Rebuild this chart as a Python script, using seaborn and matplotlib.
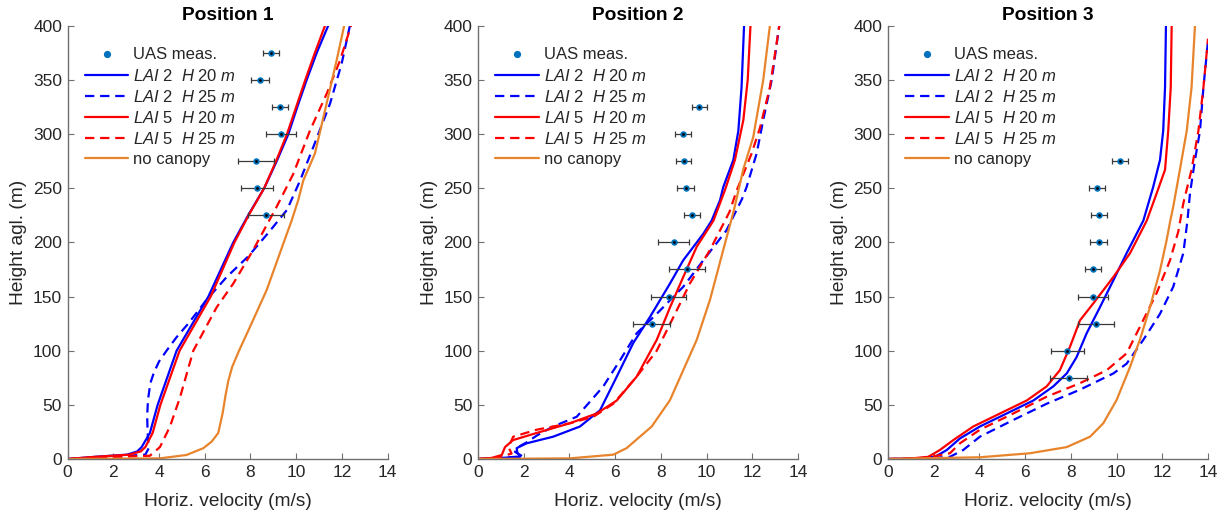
import numpy as np
import pandas as pd
import matplotlib
matplotlib.use("Agg")
import matplotlib.pyplot as plt
from matplotlib.lines import Line2D
import seaborn as sns

# ---------------- data ----------------
titles = ["Position 1", "Position 2", "Position 3"]
legend_labels = ["UAS meas.",
                 r"$\mathit{LAI}$ 2  $\mathit{H}$ 20 $\mathit{m}$",
                 r"$\mathit{LAI}$ 2  $\mathit{H}$ 25 $\mathit{m}$",
                 r"$\mathit{LAI}$ 5  $\mathit{H}$ 20 $\mathit{m}$",
                 r"$\mathit{LAI}$ 5  $\mathit{H}$ 25 $\mathit{m}$",
                 "no canopy"]
xticks = [0, 2, 4, 6, 8, 10, 12, 14]
yticks = [0, 50, 100, 150, 200, 250, 300, 350, 400]

# UAS measurements (height, velocity, half-width of error bar)
uas1_z = [375, 350, 325, 300, 275, 250, 225]
uas1_u = [8.90, 8.42, 9.29, 9.32, 8.23, 8.28, 8.68]
uas1_e = [0.37, 0.38, 0.35, 0.66, 0.78, 0.71, 0.80]
uas2_z = [325, 300, 275, 250, 225, 200, 175, 150, 125]
uas2_u = [9.68, 8.98, 9.00, 9.09, 9.36, 8.56, 9.16, 8.34, 7.60]
uas2_e = [0.33, 0.34, 0.34, 0.38, 0.35, 0.67, 0.79, 0.75, 0.80]
uas3_z = [275, 250, 225, 200, 175, 150, 125, 100, 75]
uas3_u = [10.15, 9.14, 9.22, 9.22, 8.98, 8.98, 9.10, 7.84, 7.90]
uas3_e = [0.35, 0.35, 0.35, 0.37, 0.34, 0.66, 0.79, 0.73, 0.81]

# Position 1 simulated profiles
p1_b20_z = [0, 2, 4, 7, 11, 24, 50, 100, 150, 200, 225, 250, 275, 300, 325, 350, 375, 400]
p1_b20_u = [0, 1.2, 2.6, 3.05, 3.24, 3.6, 3.94, 4.77, 6.16, 7.25, 7.9, 8.6, 9.15, 9.66, 10.05, 10.46, 10.9, 11.4]
p1_r20_z = [0, 2, 4, 7, 11, 24, 50, 100, 150, 200, 225, 250, 275, 300, 325, 350, 375, 400]
p1_r20_u = [0, 1.2, 2.7, 3.2, 3.4, 3.72, 4.06, 4.9, 6.26, 7.3, 7.92, 8.6, 9.12, 9.6, 10.0, 10.4, 10.82, 11.26]
p1_b25_z = [0, 1.5, 4, 10, 25, 40, 55, 70, 80, 90, 100, 112, 125, 147, 168, 187, 208, 230, 257, 288, 328, 365, 400]
p1_b25_u = [0, 1.5, 3.4, 3.55, 3.5, 3.48, 3.52, 3.62, 3.78, 4.0, 4.33, 4.75, 5.28, 6.08, 6.96, 7.9, 8.75, 9.6, 10.17, 10.75, 11.48, 11.99, 12.35]
p1_r25_z = [0, 1.5, 3, 11, 30, 57, 100, 140, 162, 193, 233, 263, 303, 337, 368, 400]
p1_r25_u = [0, 1.5, 3.6, 4.04, 4.48, 4.92, 5.5, 6.52, 7.25, 8.12, 9.15, 9.87, 10.6, 11.33, 11.92, 12.4]
p1_nc_z = [0, 0.6, 3.7, 10, 16, 24, 42, 60, 72, 85, 100, 122, 156, 199, 220, 239, 257, 282, 328, 368, 400]
p1_nc_u = [0, 4.04, 5.2, 5.94, 6.3, 6.59, 6.78, 6.92, 7.03, 7.2, 7.5, 7.98, 8.71, 9.44, 9.8, 10.09, 10.31, 10.82, 11.33, 11.77, 12.1]

# Position 2
p2_b20_z = [0, 1, 2, 6, 10, 14.5, 20.6, 30, 45, 76, 107, 131, 162, 183.5, 208, 220, 239, 251, 276, 303, 343, 400]
p2_b20_u = [0, 1.0, 1.84, 1.72, 1.69, 2.13, 3.29, 4.46, 5.34, 6.07, 6.79, 7.52, 8.4, 8.98, 9.86, 10.22, 10.59, 10.73, 11.17, 11.39, 11.53, 11.64]
p2_b25_z = [0, 1, 2.5, 6.5, 11, 15, 22, 30, 39, 67, 91, 116, 134, 159, 183.5, 211, 240, 251, 282, 313, 350, 400]
p2_b25_u = [0, 1.0, 1.95, 1.62, 1.75, 2.1, 2.6, 3.29, 4.32, 5.48, 6.21, 6.94, 7.82, 8.98, 9.86, 10.87, 11.55, 11.75, 12.19, 12.48, 12.85, 13.18]
p2_r20_z = [0, 1, 3.7, 11, 17.5, 24, 33, 42, 54, 76, 110, 140, 168, 196, 220, 248, 276, 313, 350, 400]
p2_r20_u = [0, 0.6, 1.04, 1.18, 1.54, 2.56, 4.02, 5.19, 6.07, 6.94, 7.82, 8.4, 8.98, 9.57, 10.3, 10.8, 11.24, 11.61, 11.8, 11.92]
p2_r25_z = [0, 1, 5, 11, 20.6, 27, 33, 39, 51, 76, 100, 137, 162, 193, 228, 248, 282, 306, 343, 400]
p2_r25_u = [0, 0.8, 1.47, 1.33, 1.54, 2.56, 4.02, 5.05, 5.92, 6.94, 7.82, 8.69, 9.27, 10.15, 11.0, 11.32, 11.97, 12.34, 12.77, 13.18]
p2_nc_z = [0, 0.6, 4, 10, 20, 30, 54.4, 82, 110, 147, 193, 230, 267, 297, 350, 400]
p2_nc_u = [0, 4.02, 5.92, 6.5, 7.05, 7.6, 8.4, 8.98, 9.57, 10.15, 10.73, 11.2, 11.6, 12.04, 12.48, 12.77]

# Position 3
p3_b20_z = [0, 0.5, 2, 8.3, 19, 30, 42, 54, 67, 79, 94, 116, 140, 165, 190, 220, 251, 276, 303, 343, 400]
p3_b20_u = [0, 1.2, 2.06, 2.57, 3.15, 4.02, 5.19, 6.36, 7.23, 7.82, 8.25, 8.69, 9.27, 9.86, 10.44, 11.17, 11.6, 11.9, 12.04, 12.12, 12.16]
p3_r20_z = [0, 0.5, 2, 8.3, 17.5, 30, 42, 54, 67, 82, 103.5, 128, 143.6, 168, 190, 220, 245, 267, 303, 343, 400]
p3_r20_u = [0, 1.0, 1.76, 2.27, 2.86, 3.73, 4.9, 6.07, 6.94, 7.52, 7.96, 8.4, 8.98, 9.86, 10.59, 11.32, 11.75, 12.12, 12.26, 12.37, 12.41]
p3_b25_z = [0, 0.5, 2, 8.3, 20.6, 36, 51, 64, 79, 88, 110, 134, 159, 190, 220, 245, 276, 303, 343, 388]
p3_b25_u = [0, 1.5, 2.71, 3.29, 4.02, 5.48, 6.94, 8.4, 9.86, 10.44, 11.17, 11.9, 12.48, 12.92, 13.1, 13.21, 13.43, 13.65, 13.8, 14.01]
p3_r25_z = [0, 0.5, 5.3, 14.5, 27, 42, 57.5, 70, 82, 97.5, 122, 153, 183.5, 210, 236, 267, 303, 343, 388]
p3_r25_u = [0, 1.5, 2.71, 3.15, 4.02, 5.48, 6.94, 8.4, 9.57, 10.44, 11.02, 11.75, 12.34, 12.7, 12.92, 13.28, 13.58, 13.8, 14.0]
p3_nc_z = [0, 0.5, 1.6, 5.3, 11, 20.6, 33, 54.4, 85, 110, 140, 174, 202, 220, 233, 267, 303, 343, 400]
p3_nc_u = [0, 1.2, 4.02, 6.21, 7.82, 8.84, 9.42, 10.0, 10.59, 11.02, 11.46, 11.9, 12.19, 12.35, 12.48, 12.77, 13.07, 13.28, 13.43]

# ---------------- style ----------------
sns.set_style("ticks")
plt.rcParams["font.family"] = ["Liberation Sans", "DejaVu Sans"]
plt.rcParams["mathtext.fontset"] = "custom"
plt.rcParams["mathtext.it"] = "Liberation Sans:italic"
plt.rcParams["mathtext.rm"] = "Liberation Sans"

BLUE = "#0000FF"
RED = "#FF0000"
ORANGE = "#E8842C"
UASC = "#0072BD"
AXC = "#707070"
TXC = "#262626"
DASH = (0, (4.2, 2.6))
FS_TICK = 12.5
FS_LAB = 13.8
FS_TITLE = 13.8
FS_LEG = 12

panels = [
    dict(uz=uas1_z, uu=uas1_u, ue=uas1_e,
         lines=[(p1_b20_u, p1_b20_z), (p1_b25_u, p1_b25_z), (p1_r20_u, p1_r20_z),
                (p1_r25_u, p1_r25_z), (p1_nc_u, p1_nc_z)]),
    dict(uz=uas2_z, uu=uas2_u, ue=uas2_e,
         lines=[(p2_b20_u, p2_b20_z), (p2_b25_u, p2_b25_z), (p2_r20_u, p2_r20_z),
                (p2_r25_u, p2_r25_z), (p2_nc_u, p2_nc_z)]),
    dict(uz=uas3_z, uu=uas3_u, ue=uas3_e,
         lines=[(p3_b20_u, p3_b20_z), (p3_b25_u, p3_b25_z), (p3_r20_u, p3_r20_z),
                (p3_r25_u, p3_r25_z), (p3_nc_u, p3_nc_z)]),
]
line_styles = [(BLUE, "-"), (BLUE, DASH), (RED, "-"), (RED, DASH), (ORANGE, "-")]

W, H = 1225, 517
fig = plt.figure(figsize=(W / 100, H / 100), dpi=100)
lefts = [67.6, 478.0, 888.0]
axw, axh = 320.0, 433.3
bottom = 58.0

for i, (pan, left) in enumerate(zip(panels, lefts)):
    ax = fig.add_axes([left / W, bottom / H, axw / W, axh / H])
    for (u, z), (col, ls) in zip(pan["lines"], line_styles):
        df = pd.DataFrame({"u": u, "z": z})
        sns.lineplot(data=df, x="u", y="z", sort=False, estimator=None, ax=ax,
                     color=col, linestyle=ls, linewidth=1.6, zorder=2)
    ax.errorbar(pan["uu"], pan["uz"], xerr=pan["ue"], fmt="none", ecolor="#3a3a3a",
                elinewidth=0.9, capsize=2.4, capthick=0.9, zorder=3)
    dfm = pd.DataFrame({"u": pan["uu"], "z": pan["uz"]})
    sns.scatterplot(data=dfm, x="u", y="z", ax=ax, color=UASC, s=22, linewidth=0, zorder=4)
    sns.scatterplot(data=dfm, x="u", y="z", ax=ax, color="black", s=4, linewidth=0, zorder=5)

    ax.set_xlim(0, 14)
    ax.set_ylim(0, 400)
    ax.set_xticks(xticks)
    ax.set_yticks(yticks)
    ax.tick_params(direction="in", length=4, width=0.8, color=AXC, labelcolor=TXC,
                   labelsize=FS_TICK, pad=4)
    for s in ["top", "right"]:
        ax.spines[s].set_visible(False)
    for s in ["left", "bottom"]:
        ax.spines[s].set_color(AXC)
        ax.spines[s].set_linewidth(1.0)
    ax.set_xlabel("Horiz. velocity (m/s)", fontsize=FS_LAB, color=TXC, labelpad=10)
    ax.set_ylabel("Height agl. (m)", fontsize=FS_LAB, color=TXC, labelpad=4)
    ax.set_title(titles[i], fontsize=FS_TITLE, fontweight="bold", color="black", pad=4)

    handles = [Line2D([], [], color=UASC, marker="o", markersize=4.2, linestyle="none")]
    for col, ls in line_styles:
        handles.append(Line2D([], [], color=col, linestyle=ls, linewidth=1.6))
    ax.legend(handles, legend_labels, loc="upper left", bbox_to_anchor=(0.054, 0.95),
              frameon=False, fontsize=FS_LEG, handlelength=2.6, handletextpad=0.3,
              labelspacing=0.31, borderpad=0, borderaxespad=0)

fig.savefig("out.png", dpi=100)
